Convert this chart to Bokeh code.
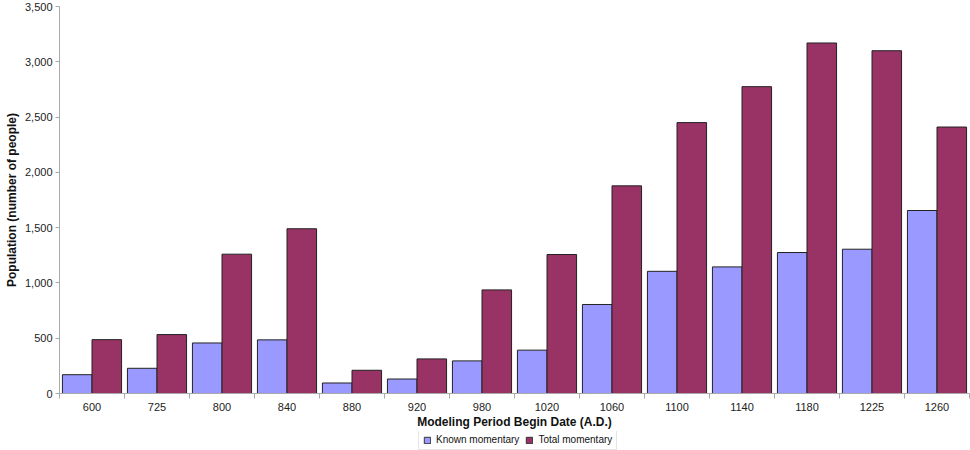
from bokeh.plotting import figure
from bokeh.layouts import column
from bokeh.models import (ColumnDataSource, Range1d, FixedTicker, NumeralTickFormatter,
                          Legend, LegendItem)
from bokeh.transform import dodge
from bokeh.embed import file_html
from bokeh.resources import INLINE

periods = ["600", "725", "800", "840", "880", "920", "980", "1020",
           "1060", "1100", "1140", "1180", "1225", "1260"]
known_momentary = [170, 228, 457, 485, 95, 131, 295, 392, 805, 1105, 1145, 1275, 1305, 1655]
total_momentary = [487, 533, 1260, 1490, 210, 313, 937, 1257, 1878, 2450, 2775, 3170, 3100, 2410]
series_names = ["Known momentary", "Total momentary"]
series_colors = ["#9999FF", "#993366"]

FONT = "Liberation Sans"
centers = [i + 0.5 for i in range(len(periods))]
src = ColumnDataSource(dict(x=centers, period=periods, known=known_momentary, total=total_momentary))

p = figure(width=970, height=431, x_range=Range1d(0, len(periods)), y_range=Range1d(0, 3500),
           output_backend="svg", toolbar_location=None,
           min_border_left=59, min_border_right=1, min_border_top=6, min_border_bottom=38)
p.outline_line_color = None
p.xgrid.visible = False
p.ygrid.visible = False

bw = 0.455
r1 = p.vbar(x=dodge("x", -bw / 2, range=p.x_range), top="known", width=bw, source=src,
            fill_color=series_colors[0], line_color="#222222", line_width=1)
r2 = p.vbar(x=dodge("x", bw / 2, range=p.x_range), top="total", width=bw, source=src,
            fill_color=series_colors[1], line_color="#222222", line_width=1)

# x axis
xa = p.xaxis[0]
xa.ticker = FixedTicker(ticks=centers, minor_ticks=list(range(len(periods) + 1)))
xa.major_label_overrides = {c: lab for c, lab in zip(centers, periods)}
xa.major_tick_line_color = None
xa.minor_tick_out = 5
xa.minor_tick_in = 0
xa.minor_tick_line_color = "#aaaaaa"
xa.axis_line_color = "#aaaaaa"
xa.major_label_text_font = FONT
xa.major_label_text_font_size = "11px"
xa.major_label_text_color = "#222222"
xa.major_label_standoff = 3
xa.axis_label = "Modeling Period Begin Date (A.D.)"
xa.axis_label_text_font = FONT
xa.axis_label_text_font_size = "12px"
xa.axis_label_text_font_style = "bold"
xa.axis_label_text_color = "#111111"
xa.axis_label_standoff = 1

# y axis
ya = p.yaxis[0]
ya.ticker = FixedTicker(ticks=list(range(0, 3501, 500)))
ya.formatter = NumeralTickFormatter(format="0,0")
ya.major_tick_out = 4
ya.major_tick_in = 0
ya.minor_tick_line_color = None
ya.major_tick_line_color = "#aaaaaa"
ya.axis_line_color = "#aaaaaa"
ya.major_label_text_font = FONT
ya.major_label_text_font_size = "11px"
ya.major_label_text_color = "#222222"
ya.major_label_standoff = 3
ya.axis_label = "Population (number of people)"
ya.axis_label_text_font = FONT
ya.axis_label_text_font_size = "12px"
ya.axis_label_text_font_style = "bold"
ya.axis_label_text_color = "#111111"
ya.axis_label_standoff = 3

# legend strip below the chart (proxy renderers hold no visible data)
lf = figure(width=970, height=19, x_range=Range1d(0, 1), y_range=Range1d(0, 1),
            output_backend="svg", toolbar_location=None,
            x_axis_location=None, y_axis_location=None,
            min_border_left=0, min_border_right=0, min_border_top=0, min_border_bottom=0)
lf.grid.visible = False
lf.outline_line_color = None
proxy = ColumnDataSource(dict(x=[float("nan")], top=[float("nan")]))
l1 = lf.vbar(x="x", top="top", width=0.1, source=proxy,
             fill_color=series_colors[0], line_color="#333333")
l2 = lf.vbar(x="x", top="top", width=0.1, source=proxy,
             fill_color=series_colors[1], line_color="#333333")
legend = Legend(items=[LegendItem(label=series_names[0], renderers=[l1]),
                       LegendItem(label=series_names[1], renderers=[l2])],
                orientation="horizontal", location=(359, 0),
                label_text_font=FONT, label_text_font_size="10px", label_text_color="#111111",
                glyph_width=8, glyph_height=8, label_height=10, label_standoff=5,
                spacing=6, padding=4, margin=0,
                border_line_color="#cccccc", background_fill_alpha=1)
lf.add_layout(legend)

open("out.html", "w").write(file_html(column(p, lf, spacing=0), INLINE))
